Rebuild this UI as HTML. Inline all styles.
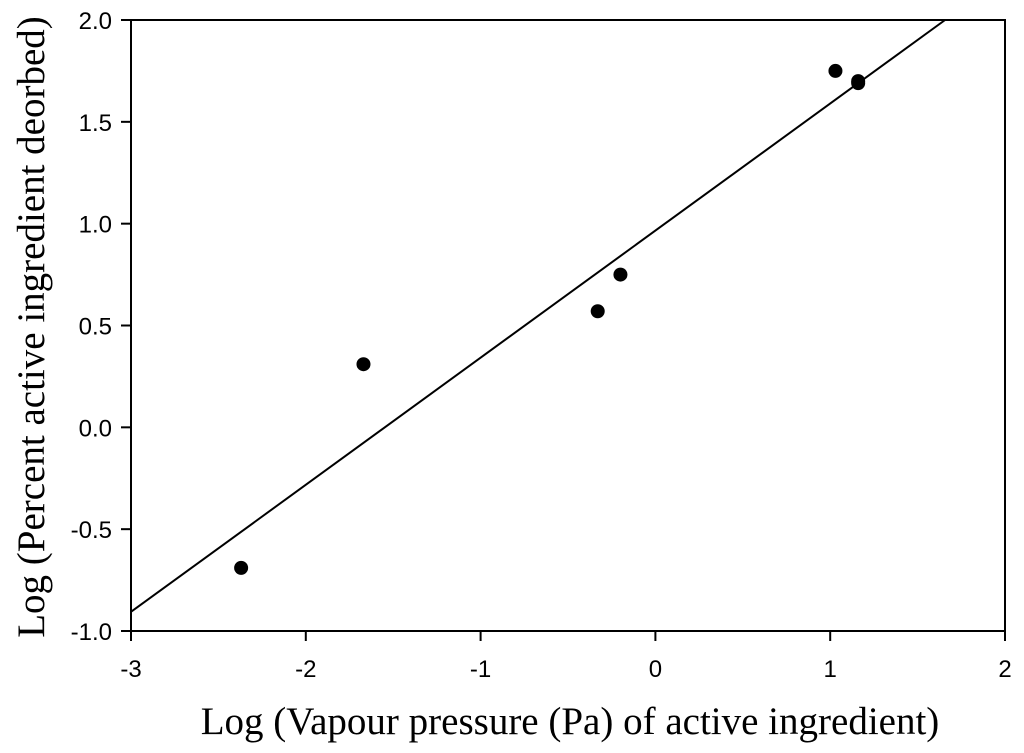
<!DOCTYPE html>
<html><head><meta charset="utf-8"><style>
body{margin:0;background:#fff;}
svg{display:block;font-family:"Liberation Sans",sans-serif;}
</style></head><body>
<svg id="chart" width="1024" height="753"></svg>
<script>
const xData = [-2.37, -1.67, -0.33, -0.20, 1.03, 1.16, 1.16];
const yData = [-0.69, 0.31, 0.57, 0.75, 1.75, 1.70, 1.69];
const xTicks = [-3, -2, -1, 0, 1, 2];
const yTicks = [-1.0, -0.5, 0.0, 0.5, 1.0, 1.5, 2.0];
const fitSlope = 0.624;
const fitIntercept = 0.966;

const L=131,R=1005,T=20,B=631;
const sx=v=>L+(v+3)/5*(R-L);
const sy=v=>B-(v+1)/3*(B-T);
const NS="http://www.w3.org/2000/svg";
const svg=document.getElementById('chart');
function mk(tag,attrs,text){const e=document.createElementNS(NS,tag);for(const k in attrs)e.setAttribute(k,attrs[k]);if(text!==undefined)e.textContent=text;svg.appendChild(e);return e;}

const frame=mk('rect',{x:L,y:T,width:R-L,height:B-T,fill:'none',stroke:'#000','stroke-width':2});



xTicks.forEach(v=>{
  const t=mk('line',{x1:sx(v),x2:sx(v),y1:B,y2:B+10,stroke:'#000','stroke-width':2});
  
  
  const lb=mk('text',{x:sx(v),y:B+46,'font-size':24,'text-anchor':'middle'},String(v));
  
  
});
yTicks.forEach(v=>{
  const t=mk('line',{x1:L-10,x2:L,y1:sy(v),y2:sy(v),stroke:'#000','stroke-width':2});
  
  
  const lb=mk('text',{x:L-19,y:sy(v)+9,'font-size':24,'text-anchor':'end'},v.toFixed(1));
  
  
});

let x0=-3,y0=fitSlope*x0+fitIntercept;
let x1=2,y1=fitSlope*x1+fitIntercept;
if(y1>2){y1=2;x1=(2-fitIntercept)/fitSlope;}
if(y0<-1){y0=-1;x0=(-1-fitIntercept)/fitSlope;}
const ln=mk('line',{x1:sx(x0),y1:sy(y0),x2:sx(x1),y2:sy(y1),stroke:'#000','stroke-width':2});



xData.forEach((v,i)=>{
  const c=mk('circle',{cx:sx(v),cy:sy(yData[i]),r:7,fill:'#000'});
  
  
});

const xt=mk('text',{x:570,y:734,'font-size':39,'text-anchor':'middle','font-family':'Liberation Serif, serif'},'Log (Vapour pressure (Pa) of active ingredient)');


const yt=mk('text',{x:0,y:0,'font-size':39,'text-anchor':'middle','font-family':'Liberation Serif, serif',transform:'translate(44,327) rotate(-90)'},'Log (Percent active ingredient deorbed)');


</script>
</body></html>
